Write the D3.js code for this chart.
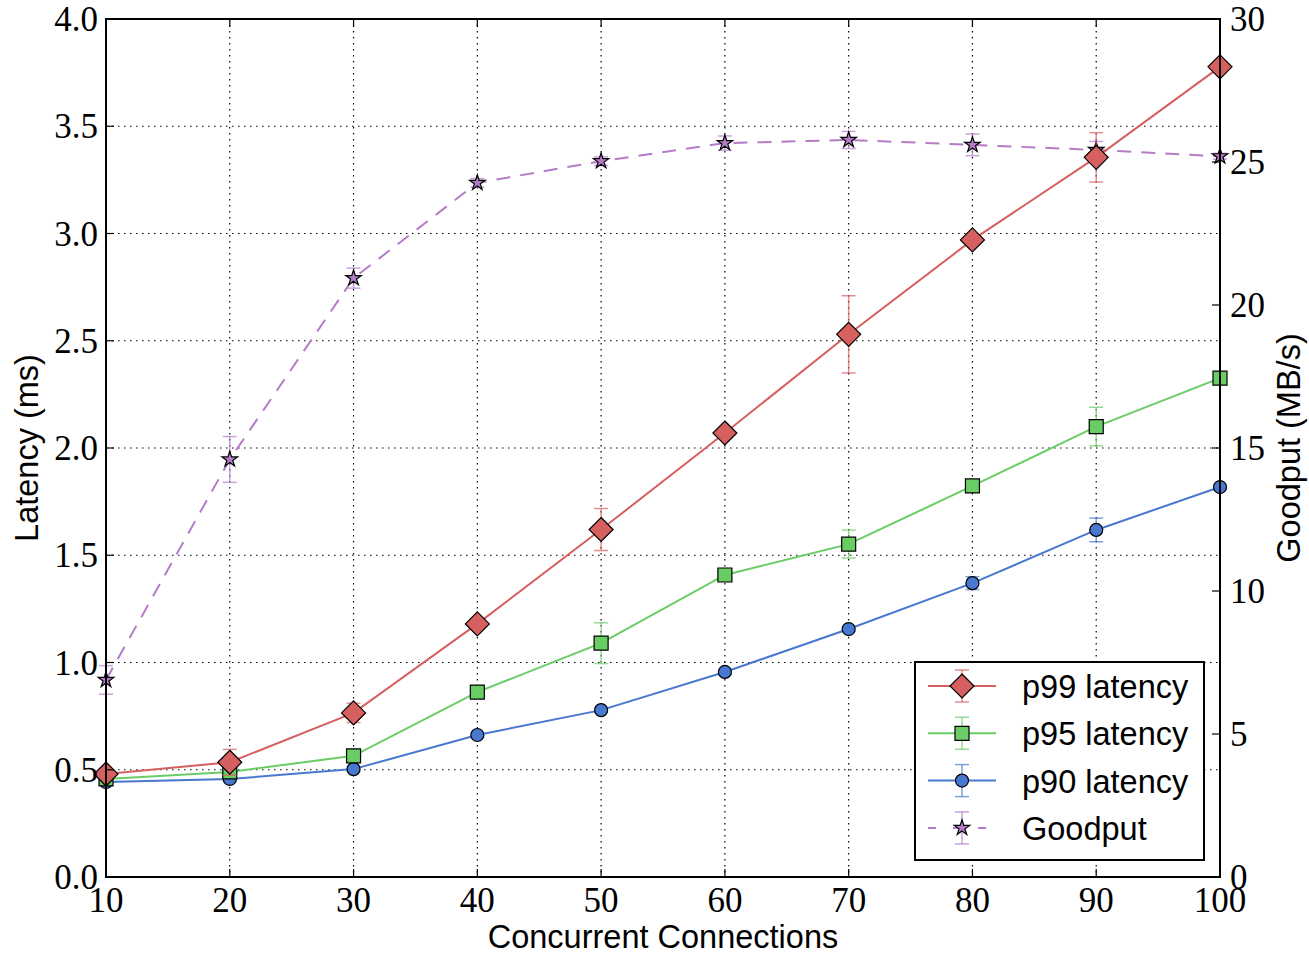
<!DOCTYPE html>
<html>
<head>
<meta charset="utf-8">
<script src="https://cdn.jsdelivr.net/npm/d3@7"></script>
<style>
  html, body { margin: 0; padding: 0; background: #fff; }
  #chart { width: 1309px; height: 955px; }
  .tick-label { font-family: "Liberation Serif", "DejaVu Serif", serif; font-size: 35px; fill: #000; }
  .axis-title { font-family: "Liberation Sans", Arial, sans-serif; font-size: 32.5px; fill: #000; }
  .legend-text { font-family: "Liberation Sans", Arial, sans-serif; font-size: 32.5px; fill: #000; }
</style>
</head>
<body>
<div id="chart"></div>
<script>
// data
var connections = [10, 20, 30, 40, 50, 60, 70, 80, 90, 100];

var p99 = [0.48, 0.535, 0.765, 1.18, 1.62, 2.07, 2.53, 2.97, 3.355, 3.777];
var p99Err = [0.02, 0.06, 0.045, 0.02, 0.098, 0.02, 0.18, 0.02, 0.115, 0.02];

var p95 = [0.457, 0.49, 0.565, 0.862, 1.09, 1.408, 1.552, 1.823, 2.10, 2.326];
var p95Err = [0.01, 0.02, 0.02, 0.02, 0.095, 0.02, 0.065, 0.02, 0.09, 0.02];

var p90 = [0.443, 0.457, 0.503, 0.662, 0.778, 0.956, 1.156, 1.37, 1.618, 1.818];
var p90Err = [0.01, 0.01, 0.01, 0.01, 0.01, 0.01, 0.01, 0.03, 0.055, 0.01];

var goodput = [6.89, 14.6, 20.94, 24.27, 25.03, 25.66, 25.77, 25.6, 25.42, 25.2];
var goodputErr = [0.5, 0.8, 0.35, 0.15, 0.15, 0.25, 0.3, 0.38, 0.3, 0.1];

var xTicks = [10, 20, 30, 40, 50, 60, 70, 80, 90, 100];
var latencyTicks = [0, 0.5, 1.0, 1.5, 2.0, 2.5, 3.0, 3.5, 4.0];
var goodputTicks = [0, 5, 10, 15, 20, 25, 30];

var seriesNames = ['p99 latency', 'p95 latency', 'p90 latency', 'Goodput'];

// layout
var width = 1309,
    height = 955;
var plot = { left: 106, right: 1220, top: 19, bottom: 877 };

var svg = d3.select('#chart')
    .append('svg')
        .attr('width', width)
        .attr('height', height);

var x = d3.scaleLinear().domain([10, 100]).range([plot.left, plot.right]);
var yLeft = d3.scaleLinear().domain([0, 4]).range([plot.bottom, plot.top]);
var yRight = d3.scaleLinear().domain([0, 30]).range([plot.bottom, plot.top]);

// grid
var grid = svg.append('g').attr('class', 'grid');
grid.selectAll('line.vgrid')
    .data(xTicks.slice(1, -1))
    .enter().append('line')
        .attr('x1', function(d) { return x(d); })
        .attr('x2', function(d) { return x(d); })
        .attr('y1', plot.top)
        .attr('y2', plot.bottom)
        .attr('stroke', '#000')
        .attr('stroke-width', 1.2)
        .attr('stroke-dasharray', '1.5,4.5');
grid.selectAll('line.hgrid')
    .data(latencyTicks.slice(1, -1))
    .enter().append('line')
        .attr('x1', plot.left)
        .attr('x2', plot.right)
        .attr('y1', function(d) { return yLeft(d); })
        .attr('y2', function(d) { return yLeft(d); })
        .attr('stroke', '#000')
        .attr('stroke-width', 1.2)
        .attr('stroke-dasharray', '1.5,4.5');

// series config
var series = [
  { name: seriesNames[0], values: p99, err: p99Err, scale: yLeft, color: '#d65f5f', marker: 'diamond', dash: null },
  { name: seriesNames[1], values: p95, err: p95Err, scale: yLeft, color: '#6acc65', marker: 'square', dash: null },
  { name: seriesNames[2], values: p90, err: p90Err, scale: yLeft, color: '#4878cf', marker: 'circle', dash: null },
  { name: seriesNames[3], values: goodput, err: goodputErr, scale: yRight, color: '#b47cc7', marker: 'star', dash: '14,10' }
];

function markerPath(type) {
  if(type == 'diamond') {
    return 'M0,-12L12,0L0,12L-12,0Z';
  }
  if(type == 'square') {
    return 'M-7,-7L7,-7L7,7L-7,7Z';
  }
  if(type == 'circle') {
    return d3.symbol().type(d3.symbolCircle).size(Math.PI * 6.5 * 6.5)();
  }
  return d3.symbol().type(d3.symbolStar).size(75)();
}

var plotArea = svg.append('g').attr('class', 'plot');

// draw back to front: goodput first, then p90, p95, p99
series.slice().reverse().forEach(function(s) {
  var g = plotArea.append('g');
  var pts = connections.map(function(c, i) {
    return { x: c, y: s.values[i], e: s.err[i] };
  });

  // error bars
  var eb = g.selectAll('g.err')
      .data(pts)
      .enter().append('g')
          .attr('stroke', s.color)
          .attr('stroke-opacity', 0.7)
          .attr('stroke-width', 1.5);
  eb.append('line')
      .attr('x1', function(d) { return x(d.x); })
      .attr('x2', function(d) { return x(d.x); })
      .attr('y1', function(d) { return s.scale(d.y - d.e); })
      .attr('y2', function(d) { return s.scale(d.y + d.e); });
  eb.append('line')
      .attr('x1', function(d) { return x(d.x) - 7; })
      .attr('x2', function(d) { return x(d.x) + 7; })
      .attr('y1', function(d) { return s.scale(d.y - d.e); })
      .attr('y2', function(d) { return s.scale(d.y - d.e); });
  eb.append('line')
      .attr('x1', function(d) { return x(d.x) - 7; })
      .attr('x2', function(d) { return x(d.x) + 7; })
      .attr('y1', function(d) { return s.scale(d.y + d.e); })
      .attr('y2', function(d) { return s.scale(d.y + d.e); });

  // line
  g.append('path')
      .datum(pts)
      .attr('fill', 'none')
      .attr('stroke', s.color)
      .attr('stroke-width', 2)
      .attr('stroke-dasharray', s.dash)
      .attr('d', d3.line()
          .x(function(d) { return x(d.x); })
          .y(function(d) { return s.scale(d.y); }));

  // markers
  g.selectAll('path.marker')
      .data(pts)
      .enter().append('path')
          .attr('class', 'marker')
          .attr('transform', function(d) { return 'translate(' + x(d.x) + ',' + s.scale(d.y) + ')'; })
          .attr('d', markerPath(s.marker))
          .attr('fill', s.color)
          .attr('stroke', '#000')
          .attr('stroke-width', 1.2);
});

// frame
svg.append('rect')
    .attr('x', plot.left)
    .attr('y', plot.top)
    .attr('width', plot.right - plot.left)
    .attr('height', plot.bottom - plot.top)
    .attr('fill', 'none')
    .attr('stroke', '#000')
    .attr('stroke-width', 2);

// tick marks (inward)
var ticks = svg.append('g').attr('stroke', '#000').attr('stroke-width', 1.2);
xTicks.forEach(function(t) {
  ticks.append('line').attr('x1', x(t)).attr('x2', x(t)).attr('y1', plot.bottom).attr('y2', plot.bottom - 8);
  ticks.append('line').attr('x1', x(t)).attr('x2', x(t)).attr('y1', plot.top).attr('y2', plot.top + 8);
});
latencyTicks.forEach(function(t) {
  ticks.append('line').attr('x1', plot.left).attr('x2', plot.left + 8).attr('y1', yLeft(t)).attr('y2', yLeft(t));
});
goodputTicks.forEach(function(t) {
  ticks.append('line').attr('x1', plot.right).attr('x2', plot.right - 8).attr('y1', yRight(t)).attr('y2', yRight(t));
});

// tick labels
svg.selectAll('text.xlab')
    .data(xTicks)
    .enter().append('text')
        .attr('class', 'tick-label')
        .attr('x', function(d) { return x(d); })
        .attr('y', plot.bottom + 35)
        .style('text-anchor', 'middle')
        .text(function(d) { return d; });
svg.selectAll('text.ylab')
    .data(latencyTicks)
    .enter().append('text')
        .attr('class', 'tick-label')
        .attr('x', plot.left - 8)
        .attr('y', function(d) { return yLeft(d) + 12; })
        .style('text-anchor', 'end')
        .text(function(d) { return d.toFixed(1); });
svg.selectAll('text.y2lab')
    .data(goodputTicks)
    .enter().append('text')
        .attr('class', 'tick-label')
        .attr('x', plot.right + 10)
        .attr('y', function(d) { return yRight(d) + 12; })
        .style('text-anchor', 'start')
        .text(function(d) { return d; });

// axis titles
svg.append('text')
    .attr('class', 'axis-title')
    .attr('x', (plot.left + plot.right) / 2)
    .attr('y', 948)
    .style('text-anchor', 'middle')
    .text('Concurrent Connections');
svg.append('text')
    .attr('class', 'axis-title')
    .attr('transform', 'translate(38,' + (plot.top + plot.bottom) / 2 + ') rotate(-90)')
    .style('text-anchor', 'middle')
    .text('Latency (ms)');
svg.append('text')
    .attr('class', 'axis-title')
    .attr('transform', 'translate(1300,' + (plot.top + plot.bottom) / 2 + ') rotate(-90)')
    .style('text-anchor', 'middle')
    .text('Goodput (MB/s)');

// legend
var legend = svg.append('g').attr('class', 'legend');
legend.append('rect')
    .attr('x', 915)
    .attr('y', 662)
    .attr('width', 289)
    .attr('height', 198)
    .attr('fill', '#fff')
    .attr('stroke', '#000')
    .attr('stroke-width', 2);

series.forEach(function(s, i) {
  var ly = 686 + i * 47.3;
  var item = legend.append('g');
  item.append('line')
      .attr('x1', 928).attr('x2', 996)
      .attr('y1', ly).attr('y2', ly)
      .attr('stroke', s.color)
      .attr('stroke-width', 2)
      .attr('stroke-dasharray', s.dash ? '8,17' : null);
  item.append('line')
      .attr('x1', 962).attr('x2', 962)
      .attr('y1', ly - 16).attr('y2', ly + 16)
      .attr('stroke', s.color).attr('stroke-opacity', 0.7).attr('stroke-width', 1.5);
  [ly - 16, ly + 16].forEach(function(cy) {
    item.append('line')
        .attr('x1', 955).attr('x2', 969)
        .attr('y1', cy).attr('y2', cy)
        .attr('stroke', s.color).attr('stroke-opacity', 0.7).attr('stroke-width', 1.5);
  });
  item.append('path')
      .attr('transform', 'translate(962,' + ly + ')')
      .attr('d', markerPath(s.marker))
      .attr('fill', s.color)
      .attr('stroke', '#000')
      .attr('stroke-width', 1.2);
  item.append('text')
      .attr('class', 'legend-text')
      .attr('x', 1022)
      .attr('y', ly + 12)
      .text(s.name);
});
</script>
</body>
</html>
